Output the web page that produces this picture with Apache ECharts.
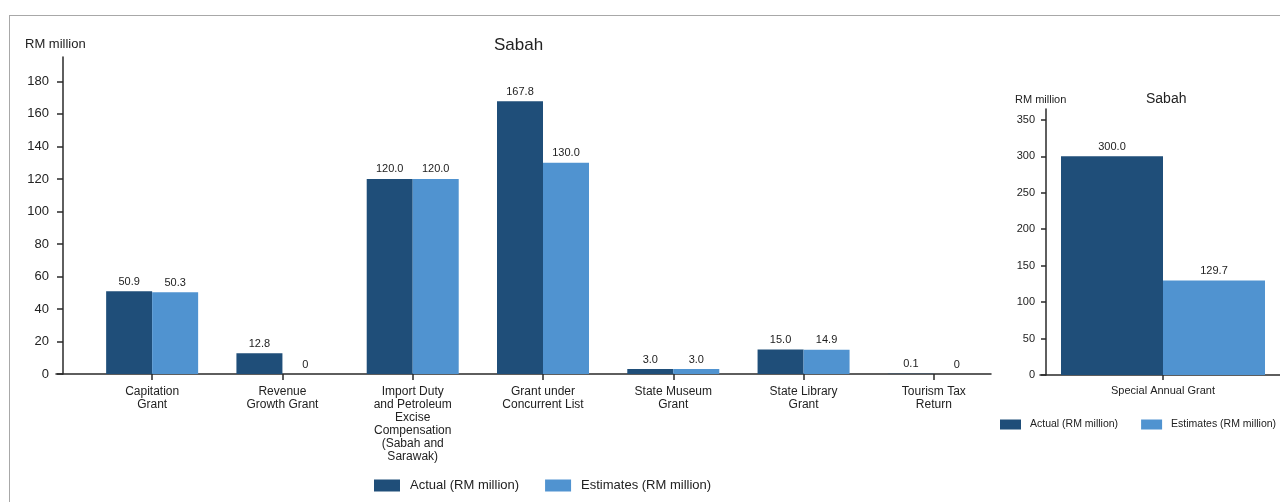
<!DOCTYPE html>
<html>
<head>
<meta charset="utf-8">
<script src="https://cdn.jsdelivr.net/npm/echarts@6/dist/echarts.min.js"></script>
<style>
  html, body { margin: 0; padding: 0; background: #fff; }
  #wrap { position: relative; width: 1280px; height: 502px; overflow: hidden; }
  #frame { position: absolute; left: 9px; top: 15px; width: 1400px; height: 600px;
           border-top: 1px solid #a8a8a8; border-left: 1px solid #a8a8a8; }
  #chart { position: absolute; left: 0; top: 0; width: 1280px; height: 502px; }
</style>
</head>
<body>
<div id="wrap">
  <div id="frame"></div>
  <div id="chart"></div>
</div>
<script>
// Federal grants to Sabah, RM million
const grantCategories = [
  'Capitation\nGrant',
  'Revenue\nGrowth Grant',
  'Import Duty\nand Petroleum\nExcise\nCompensation\n(Sabah and\nSarawak)',
  'Grant under\nConcurrent List',
  'State Museum\nGrant',
  'State Library\nGrant',
  'Tourism Tax\nReturn'
];
const grantActual    = [50.9, 12.8, 120.0, 167.8, 3.0, 15.0, 0.1];
const grantEstimates = [50.3, 0, 120.0, 130.0, 3.0, 14.9, 0];

const specialCategories = ['Special Annual Grant'];
const specialActual     = [300.0];
const specialEstimates  = [129.7];

const leftTicks  = [0, 20, 40, 60, 80, 100, 120, 140, 160, 180];
const rightTicks = [0, 50, 100, 150, 200, 250, 300, 350];

const ACTUAL = 'Actual (RM million)';
const ESTIMATE = 'Estimates (RM million)';
const DARK = '#1f4e79';
const LIGHT = '#5093d0';
const AXIS = '#2a2a2a';
const FONT = '"Liberation Sans", Arial, sans-serif';

const fmt = p => (p.value === 0 ? '0' : p.value.toFixed(1));
const valueLabel = size => ({
  show: true, position: 'top', distance: 4, formatter: fmt,
  color: '#222', fontSize: size, fontFamily: FONT
});

const chart = echarts.init(document.getElementById('chart'), null, { renderer: 'canvas' });

chart.setOption({
  animation: false,
  textStyle: { fontFamily: FONT },
  title: [
    { text: 'RM million', left: 20, top: 33, textStyle: { fontSize: 13, fontWeight: 'normal', color: '#222', fontFamily: FONT } },
    { text: 'Sabah', left: 489, top: 32, textStyle: { fontSize: 17, fontWeight: 'normal', color: '#222', fontFamily: FONT } },
    { text: 'RM million', left: 1010, top: 89, textStyle: { fontSize: 11, fontWeight: 'normal', color: '#222', fontFamily: FONT } },
    { text: 'Sabah', left: 1141, top: 87, textStyle: { fontSize: 14, fontWeight: 'normal', color: '#222', fontFamily: FONT } }
  ],
  legend: [
    {
      data: [ACTUAL, ESTIMATE], left: 369, top: 474,
      itemWidth: 26, itemHeight: 12, itemGap: 26, icon: 'rect',
      textStyle: { fontSize: 13, color: '#222', fontFamily: FONT, padding: [0, 0, 0, 5] },
      selectedMode: false
    },
    {
      data: [ACTUAL, ESTIMATE], left: 1000, top: 419, padding: 0, width: 280,
      itemWidth: 21, itemHeight: 10, itemGap: 23, icon: 'rect',
      textStyle: { fontSize: 10.5, color: '#222', fontFamily: FONT, padding: [0, 0, 0, 4] },
      selectedMode: false
    }
  ],
  grid: [
    { left: 87, right: 281, top: 57, bottom: 128 },   // main grants
    { left: 56, right: 289, top: 57, bottom: 128 },   // baseline of main grants
    { left: 1046, right: 0, top: 109, bottom: 127 },  // special grant
    { left: 1040, right: 0, top: 109, bottom: 127 }   // baseline of special grant
  ],
  xAxis: [
    {
      type: 'category', gridIndex: 0, data: grantCategories,
      axisLine: { show: false },
      axisTick: { show: true, alignWithLabel: true, length: 6, lineStyle: { color: AXIS, width: 1.5 } },
      axisLabel: { margin: 11, fontSize: 12, lineHeight: 13, color: '#222', fontFamily: FONT, interval: 0 }
    },
    {
      type: 'value', gridIndex: 1, min: 0, max: 1,
      axisLine: { show: true, onZero: false, lineStyle: { color: AXIS, width: 1.5 } },
      axisTick: { show: false }, axisLabel: { show: false }, splitLine: { show: false }
    },
    {
      type: 'category', gridIndex: 2, data: specialCategories,
      axisLine: { show: false },
      axisTick: { show: true, alignWithLabel: true, length: 5, lineStyle: { color: AXIS, width: 1.5 } },
      axisLabel: { margin: 10, fontSize: 11, color: '#222', fontFamily: FONT }
    },
    {
      type: 'value', gridIndex: 3, min: 0, max: 1,
      axisLine: { show: true, onZero: false, lineStyle: { color: AXIS, width: 1.5 } },
      axisTick: { show: false }, axisLabel: { show: false }, splitLine: { show: false }
    }
  ],
  yAxis: [
    {
      type: 'value', gridIndex: 0, min: 0, max: 195, offset: 24,
      axisLine: { show: true, lineStyle: { color: AXIS, width: 1.5 } },
      axisTick: { show: true, length: 6, customValues: leftTicks, lineStyle: { color: AXIS, width: 1.5 } },
      axisLabel: { customValues: leftTicks, margin: 14, fontSize: 13, color: '#222', fontFamily: FONT },
      splitLine: { show: false }
    },
    { type: 'value', gridIndex: 1, show: false, min: 0, max: 1 },
    {
      type: 'value', gridIndex: 2, min: 0, max: 365,
      axisLine: { show: true, lineStyle: { color: AXIS, width: 1.5 } },
      axisTick: { show: true, length: 5, customValues: rightTicks, lineStyle: { color: AXIS, width: 1.5 } },
      axisLabel: { customValues: rightTicks, margin: 11, fontSize: 11, color: '#222', fontFamily: FONT },
      splitLine: { show: false }
    },
    { type: 'value', gridIndex: 3, show: false, min: 0, max: 1 }
  ],
  series: [
    {
      name: ACTUAL, type: 'bar', xAxisIndex: 0, yAxisIndex: 0, data: grantActual,
      barWidth: 46, barGap: '0%', itemStyle: { color: DARK }, label: valueLabel(11)
    },
    {
      name: ESTIMATE, type: 'bar', xAxisIndex: 0, yAxisIndex: 0, data: grantEstimates,
      barWidth: 46, barGap: '0%', itemStyle: { color: LIGHT }, label: valueLabel(11)
    },
    {
      name: ACTUAL, type: 'bar', xAxisIndex: 2, yAxisIndex: 2, data: specialActual,
      barWidth: 102, barGap: '0%', itemStyle: { color: DARK }, label: valueLabel(11)
    },
    {
      name: ESTIMATE, type: 'bar', xAxisIndex: 2, yAxisIndex: 2, data: specialEstimates,
      barWidth: 102, barGap: '0%', itemStyle: { color: LIGHT }, label: valueLabel(11)
    }
  ]
});
</script>
</body>
</html>
